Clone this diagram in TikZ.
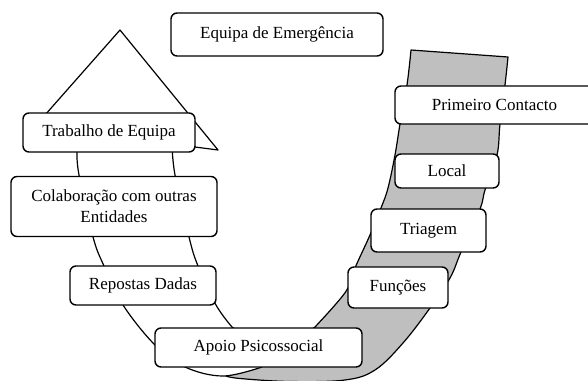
\documentclass[tikz,border=0pt]{standalone}
\usepackage{fontspec}
\setmainfont{Liberation Serif}
\definecolor{bandgray}{RGB}{191,191,191}
\begin{document}
\begin{tikzpicture}[x=1pt,y=-1pt,
 box/.style={draw=black,line width=1.4pt,rounded corners=6pt,fill=white,inner sep=0pt,font=\fontsize{17}{21}\selectfont,align=center},
 band/.style={draw=black,line width=1.2pt,line join=round}]
\useasboundingbox (0,0) rectangle (588,380);
% gray (back) side of the U-turn arrow
\path[band,fill=bandgray] (411,50) -- (508,57) -- plot[smooth,tension=0.6] coordinates {(508,57) (505,85) (500,124) (497,155) (485,190) (480,209) (461,252) (450,278) (430,308) (403,343) (375,370) (345,380) (290,381.5) (240,378.5) (226,376)} -- (262,360) -- (290,345) -- plot[smooth,tension=0.6] coordinates {(315,327) (335,305) (348,288) (355,268) (370,235) (381,208) (388,188) (395,155) (400,124) (407,85) (411,50)} -- cycle;
% white (front) side with arrow head
\path[band,fill=white] (120,30) -- (30,132) -- (76,139) -- plot[smooth,tension=0.6] coordinates {(77,152) (79,175) (93,237) (104,266) (123,305) (155,345) (185,367) (223,376) (262,367)} -- (258,345) -- plot[smooth,tension=0.6] coordinates {(232,327) (216,305) (198,266) (189,237) (175,175) (172,144)} -- (218,150) -- cycle;
% boxes
\node[box,minimum width=212pt,minimum height=43pt] (eq) at (277,34.5) {Equipa de Emergência};
\node[box,minimum width=172pt,minimum height=39pt] (trab) at (109,132.5) {Trabalho de Equipa};
\node[box,minimum width=206pt,minimum height=60pt] (colab) at (114,206.5) {Colaboração com outras\\Entidades};
\node[box,minimum width=146pt,minimum height=39pt] (resp) at (143,285.5) {Repostas Dadas};
\node[box,minimum width=207pt,minimum height=39pt] (apoio) at (258.5,347.5) {Apoio Psicossocial};
\node[box,minimum width=199pt,minimum height=38pt] (prim) at (494.5,105) {Primeiro Contacto};
\node[box,minimum width=104pt,minimum height=34pt] (local) at (447,171) {Local};
\node[box,minimum width=115pt,minimum height=43pt] (triag) at (428.5,230.5) {Triagem};
\node[box,minimum width=100pt,minimum height=41pt] (func) at (398,287.5) {Funções};
\end{tikzpicture}
\end{document}
